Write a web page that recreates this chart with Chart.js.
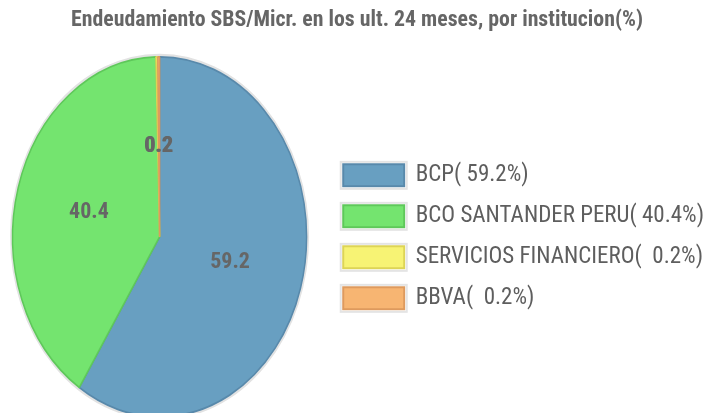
<!DOCTYPE html>
<html>
<head>
<meta charset="utf-8">
<script src="https://cdn.jsdelivr.net/npm/chart.js@4"></script>
<style>
  html, body { margin: 0; padding: 0; background: #fff; }
  #chart { display: block; }
</style>
</head>
<body>
<canvas id="chart" width="721" height="413"></canvas>
<script>
// Data
const institutions = ['BCP', 'BCO SANTANDER PERU', 'SERVICIOS FINANCIERO', 'BBVA'];
const shares = [59.2, 40.4, 0.2, 0.2];

const fills = ['#689fc1', '#74e46f', '#f7f374', '#f7b572'];
const borders = ['#5889ab', '#5ec85a', '#ddd456', '#de9a5e'];

const FONT = '"Roboto Condensed", "Liberation Sans", sans-serif';
const ELLIPSE_RATIO = 180 / 147; // pie is stretched vertically in the original
const PIE_SHIFT_LEFT = 6;        // pie sits a little closer to the left edge

// stretch the pie into an ellipse, soft outer ring, value labels
const ellipsePlugin = {
  id: 'ellipse',
  afterLayout(chart) {
    const ca = chart.chartArea;
    ca.left -= PIE_SHIFT_LEFT;
    ca.width = ca.right - ca.left;
  },
  beforeDatasetsDraw(chart) {
    const arc = chart.getDatasetMeta(0).data[0];
    if (!arc) return;
    const ctx = chart.ctx;
    ctx.save();
    ctx.translate(arc.x, arc.y);
    ctx.scale(1, ELLIPSE_RATIO);
    ctx.translate(-arc.x, -arc.y);
    ctx.beginPath();
    ctx.arc(arc.x, arc.y, arc.outerRadius + 1, 0, Math.PI * 2);
    ctx.strokeStyle = '#e2e2e2';
    ctx.lineWidth = 3;
    ctx.stroke();
  },
  afterDatasetsDraw(chart) {
    const ctx = chart.ctx;
    ctx.restore();
    const meta = chart.getDatasetMeta(0);
    ctx.save();
    ctx.font = 'bold 22px ' + FONT;
    ctx.fillStyle = '#666';
    ctx.textAlign = 'center';
    ctx.textBaseline = 'middle';
    meta.data.forEach((el, i) => {
      const p = el.tooltipPosition();
      const y = el.y + (p.y - el.y) * ELLIPSE_RATIO;
      ctx.fillText(String(shares[i]), p.x, y);
    });
    ctx.restore();
  },
  afterDraw(chart) {
    // light grey frame around each legend swatch
    const legend = chart.legend;
    if (!legend || !legend.legendHitBoxes) return;
    const opts = legend.options.labels;
    const ctx = chart.ctx;
    ctx.save();
    ctx.strokeStyle = '#e4e4e4';
    ctx.lineWidth = 2;
    legend.legendHitBoxes.forEach(hb => {
      const top = hb.top + (hb.height - opts.boxHeight) / 2;
      ctx.strokeRect(hb.left - 2.5, top - 2.5, opts.boxWidth + 5, opts.boxHeight + 5);
    });
    ctx.restore();
  }
};

const ctx = document.getElementById('chart').getContext('2d');
new Chart(ctx, {
  type: 'pie',
  data: {
    labels: institutions,
    datasets: [{
      data: shares,
      backgroundColor: fills,
      borderColor: borders,
      borderWidth: 1.5,
      radius: 147,
      clip: false
    }]
  },
  options: {
    responsive: false,
    devicePixelRatio: 1,
    animation: false,
    layout: { padding: { left: 0, right: 7, top: 0, bottom: 0 } },
    plugins: {
      title: {
        display: true,
        text: 'Endeudamiento SBS/Micr. en los ult. 24 meses, por institucion(%)',
        color: '#666',
        font: { family: FONT, size: 21.8, weight: 'bold' },
        padding: { top: 7, bottom: 27.5 }
      },
      legend: {
        position: 'right',
        align: 'center',
        fullSize: false,
        maxWidth: 420,
        labels: {
          boxWidth: 61,
          boxHeight: 22,
          padding: 18,
          color: '#5e5e5e',
          font: { family: FONT, size: 23 },
          generateLabels(chart) {
            return institutions.map((name, i) => ({
              text: name + '(' + shares[i].toFixed(1).padStart(5) + '%)',
              fillStyle: fills[i],
              strokeStyle: borders[i],
              lineWidth: 2,
              hidden: false,
              index: i,
              fontColor: '#5e5e5e'
            }));
          }
        }
      },
      tooltip: { enabled: false }
    }
  },
  plugins: [ellipsePlugin]
});
</script>
</body>
</html>
